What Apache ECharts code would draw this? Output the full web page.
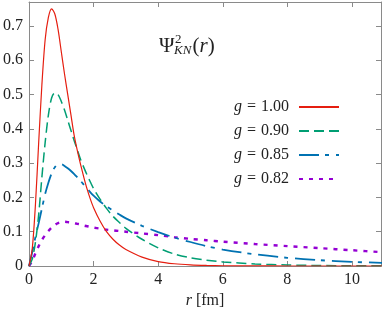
<!DOCTYPE html>
<html>
<head>
<meta charset="utf-8">
<script src="https://cdn.jsdelivr.net/npm/echarts@6/dist/echarts.min.js"></script>
<style>
html,body{margin:0;padding:0;background:#fff;}
#chart{width:382px;height:313px;}
</style>
</head>
<body>
<div id="chart"></div>
<script>
// r grid [fm]
var rValues = [0,0.1,0.2,0.3,0.4,0.5,0.6,0.7,0.8,0.9,1.0,1.1,1.2,1.3,1.4,1.5,1.6,1.7,1.8,1.9,2.0,2.2,2.4,2.6,2.8,3.0,3.5,4.0,4.5,5.0,5.5,6.0,7.0,8.0,9.0,10.0,11.0];
// g = 1.00
var psiG100 = [0,0.05,0.18,0.36,0.53,0.66,0.725,0.75,0.735,0.69,0.625,0.56,0.5,0.44,0.38,0.335,0.295,0.258,0.224,0.195,0.17,0.131,0.1,0.078,0.061,0.048,0.026,0.013,0.0065,0.0032,0.0016,0.0008,0.0002,0.00005,0,0,0];
// g = 0.90
var psiG090 = [0,0.02,0.07,0.15,0.26,0.36,0.44,0.49,0.505,0.5,0.48,0.455,0.425,0.395,0.365,0.338,0.31,0.287,0.265,0.245,0.226,0.195,0.168,0.145,0.127,0.11,0.078,0.053,0.035,0.024,0.017,0.012,0.006,0.003,0.0015,0.0008,0.0004];
// g = 0.85
var psiG085 = [0,0.04,0.085,0.125,0.168,0.21,0.243,0.27,0.288,0.297,0.297,0.292,0.285,0.277,0.268,0.258,0.248,0.237,0.226,0.215,0.205,0.188,0.174,0.162,0.15,0.139,0.117,0.099,0.083,0.07,0.058,0.048,0.034,0.024,0.017,0.012,0.009];
// g = 0.82
var psiG082 = [0,0.015,0.037,0.058,0.076,0.09,0.102,0.112,0.12,0.125,0.128,0.129,0.128,0.127,0.125,0.123,0.121,0.118,0.116,0.114,0.112,0.109,0.106,0.104,0.102,0.1,0.095,0.09,0.084,0.079,0.075,0.071,0.064,0.058,0.052,0.046,0.04];

var seriesNames = ['1.00','0.90','0.85','0.82'];
var seriesValues = [psiG100, psiG090, psiG085, psiG082];
var xTicks = [0,2,4,6,8,10];
var yTicks = [0,0.1,0.2,0.3,0.4,0.5,0.6,0.7];

var colors = ['#e51e10','#009e73','#0072b2','#9400d3'];
var widths = [1.2,1.5,1.8,2.4];
var dashes = ['solid',[10,5],[20,6,4,7],[4,6]];

var FONT = "'Liberation Serif', serif";
var AXC = '#8a8a8a';

function pairs(vals){ return rValues.map(function(r,i){ return [r, vals[i]]; }); }

var series = seriesNames.map(function(n,i){
  return {
    type:'line', name:n, data:pairs(seriesValues[i]),
    smooth:0.3, showSymbol:false, symbol:'none', clip:true,
    lineStyle:{color:colors[i], width:widths[i], type:dashes[i], cap:'butt'},
    itemStyle:{color:colors[i]},
    z: 10-i
  };
});

function xAx(pos, labels){
  return {
    type:'value', position:pos, min:0, max:10.9, interval:2,
    axisLine:{show:true, onZero:false, lineStyle:{color:AXC, width:1}},
    axisTick:{show:true, inside:true, length:5, customValues:xTicks, lineStyle:{color:AXC}},
    axisLabel:{show:labels, customValues:xTicks, margin:6, fontFamily:FONT, fontSize:16, color:'#222'},
    splitLine:{show:false},
    name: labels ? '{i|r} [fm]' : '',
    nameLocation:'middle', nameGap:19,
    nameTextStyle:{fontFamily:FONT, fontSize:16, color:'#222', verticalAlign:'top',
      rich:{i:{fontFamily:FONT, fontSize:16, fontStyle:'italic', color:'#222'}}}
  };
}
function yAx(pos, labels){
  return {
    type:'value', position:pos, min:0, max:0.77, interval:0.1,
    axisLine:{show:true, onZero:false, lineStyle:{color:AXC, width:1}},
    axisTick:{show:true, inside:true, length:5, customValues:yTicks, lineStyle:{color:AXC}},
    axisLabel:{show:labels, customValues:yTicks, margin:6, fontFamily:FONT, fontSize:16, color:'#222',
      formatter:function(v){ return v===0 ? '0' : v.toFixed(1); }},
    splitLine:{show:false}
  };
}

var chart = echarts.init(document.getElementById('chart'), null, {renderer:'canvas'});
chart.setOption({
  animation:false,
  backgroundColor:'#fff',
  grid:{left:29, right:1, top:2, bottom:47, containLabel:false, outerBoundsMode:'none'},
  xAxis:[xAx('bottom', true), xAx('top', false)],
  yAxis:[yAx('left', true), yAx('right', false)],
  legend:{
    orient:'vertical', right:42, top:99, align:'right', padding:0,
    itemWidth:40, itemHeight:16, itemGap:8,
    itemStyle:{opacity:0},
    data:seriesNames,
    formatter:function(n){ return '{i|g}{s|}{n|=}{s|}{n|' + n + '}{pad|}'; },
    textStyle:{fontFamily:FONT, fontSize:16, color:'#222',
      rich:{
        i:{fontFamily:FONT, fontSize:16, fontStyle:'italic', color:'#222'},
        n:{fontFamily:FONT, fontSize:16, color:'#222'},
        s:{width:5},
        pad:{width:5}
      }}
  },
  graphic:[
    {type:'text', x:159, y:46, style:{
      text:'{n|\u03A8}{g|}{n|(}{i|r}{n|)}', verticalAlign:'middle', align:'left',
      rich:{
        n:{fontFamily:FONT, fontSize:21, fill:'#222'},
        i:{fontFamily:FONT, fontSize:21, fontStyle:'italic', fill:'#222'},
        g:{width:18}
      }}},
    {type:'text', x:175, y:40, style:{text:'2', font:'13px '+FONT, fill:'#222', verticalAlign:'middle', align:'left'}},
    {type:'text', x:174, y:51, style:{text:'KN', font:'italic 13px '+FONT, fill:'#222', verticalAlign:'middle', align:'left'}}
  ],
  series:series
});
</script>
</body>
</html>
